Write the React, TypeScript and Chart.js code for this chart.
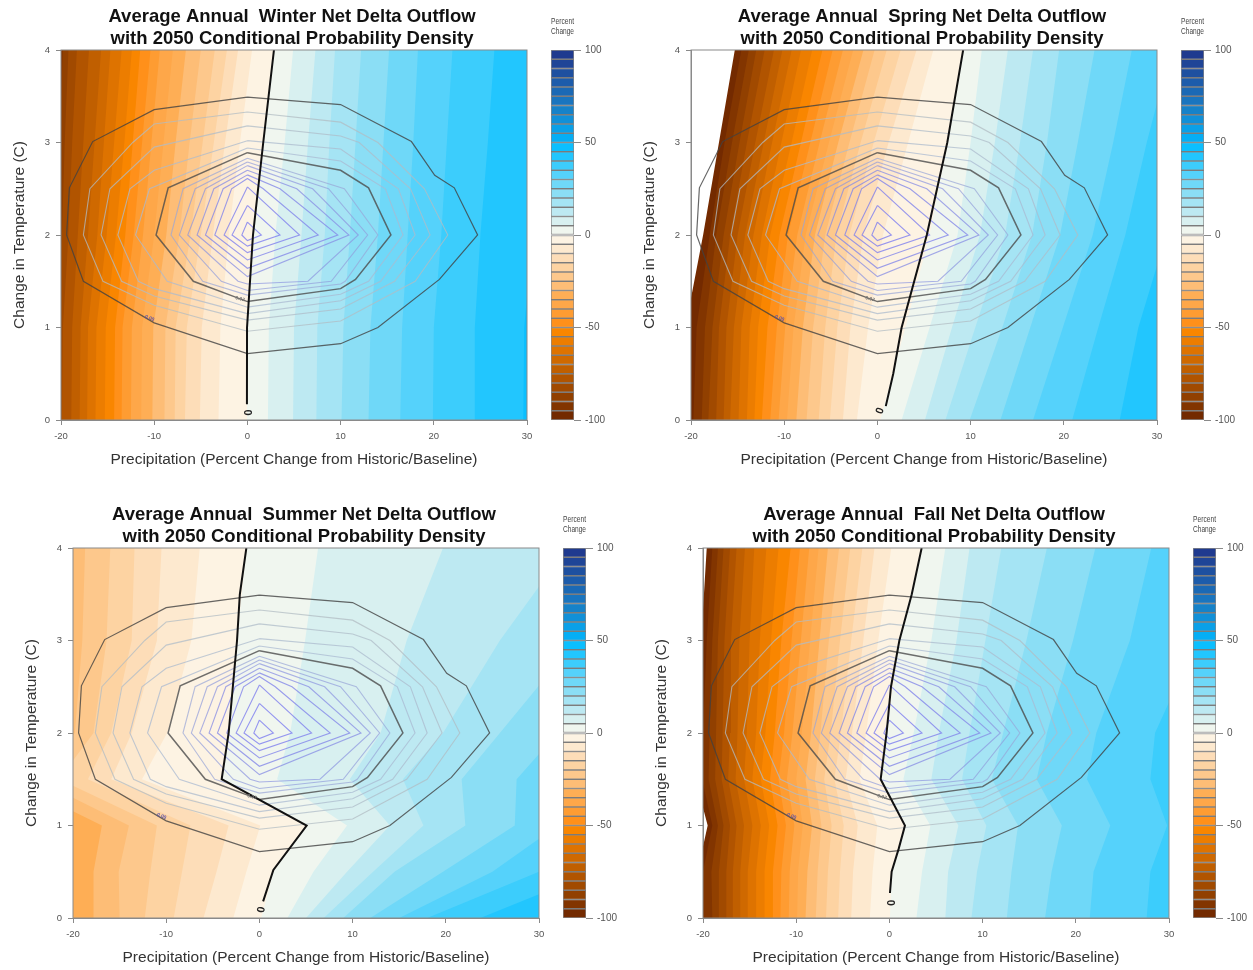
import React, { useEffect, useRef } from "react";
import { Chart, registerables } from "chart.js";

Chart.register(...registerables);

// contour levels of the filled surface (lower bound of each band)
const allLevels = [-100,-95,-90,-85,-80,-75,-70,-65,-60,-55,-50,-45,-40,-35,-30,-25,-20,-15,-10,-5,0,5,10,15,20,25,30,35,40,45];
const summerLevels = [-35,-30,-25,-20,-15,-10,-5,0,5,10,15,20,25,30,35,40,45];

// colour of each 5-percent band, -100 up to 95
const bandBottoms = [-100,-95,-90,-85,-80,-75,-70,-65,-60,-55,-50,-45,-40,-35,-30,-25,-20,-15,-10,-5,0,5,10,15,20,25,30,35,40,45,50,55,60,65,70,75,80,85,90,95];
const bandColors = [
  "#732a00","#823500","#914000","#a14a00","#b15400","#c05f00","#cf6900","#de7300","#ec7d00","#f98600",
  "#ff901a","#fe9c32","#fea749","#feae55","#fdbd76","#fdc88c","#fdd3a2","#fdddb8","#fde9cf","#fdf3e3",
  "#f0f6ef","#d8f0f0","#bde9f2","#a5e4f4","#8bdef5","#6fd8f8","#55d2fb","#3ccdfc","#22c6fe","#0bbfff",
  "#05aef5","#0aa0e8","#1190d8","#1682c9","#1a75bf","#1b69b5","#1d5cab","#1e50a0","#1f4597","#1f3a8f",
];

// x position of each level along rows of constant temperature
const winterT = [0, 1, 2, 3, 4];
const winterAt0 = [-25,-24,-23,-21,-19.9,-18.9,-18,-17.2,-16.3,-15.3,-14.3,-13.5,-12.5,-11.4,-10.2,-8.9,-7.8,-6.7,-5.1,-3.1,-0.05,2.2,4.9,7.4,10.1,13,16.4,19.9,24.4,29.6];
const winterAt1 = [-25,-24,-23,-20.9,-19.8,-18.8,-17.9,-17.1,-16.2,-15.2,-14.2,-13.4,-12.4,-11.3,-10.1,-8.8,-7.7,-6.5,-4.9,-2.9,-0.04,2.3,5,7.5,10.3,13.2,16.6,20,24.4,29.7];
const winterAt2 = [-23,-22,-21,-19.9,-19.2,-18.2,-17.1,-16.1,-15.1,-14.1,-13.1,-12.2,-11.2,-10,-8.7,-7.3,-6.1,-5,-3.7,-2,0.6,3,5.8,8.3,11,14,17.2,20.8,25,30.6];
const winterAt3 = [-22,-21,-20.2,-19.6,-18.8,-17.6,-16.4,-15.4,-14.3,-13.2,-12.3,-11.3,-10.3,-9,-7.7,-6.2,-4.8,-3.6,-2.4,-0.8,1.7,4,6.5,8.8,11.6,14.6,17.8,21.4,25.8,31.3];
const winterAt4 = [-20.2,-20,-19.8,-19.2,-18.3,-17,-15.7,-14.7,-13.5,-12.4,-11.5,-10.4,-9.4,-8,-6.6,-5,-3.5,-2.2,-1,0.5,2.85,4.9,7.3,9.4,12.2,15.2,18.3,22,26.5,32];

const springT = [0, 1, 2, 3, 4];
const springAt0 = [-21.5,-19.75,-18.85,-18.14,-17.3,-16.5,-15.8,-14.9,-14,-13.2,-12.4,-11.5,-10.6,-9.7,-8.7,-7.6,-6.3,-5.1,-3.7,-2.2,0.3,2.6,5.1,7.3,9.9,13.2,16.7,20.9,26,33];
const springAt1 = [-20.6,-19.4,-18.5,-17.7,-17,-16.2,-15.4,-14.6,-13.7,-12.8,-11.8,-10.8,-9.9,-9,-8,-6.9,-5.6,-4.3,-2.9,-1,3,5.6,8,10.5,13.4,16.4,19.9,23.7,28,33];
const springAt2 = [-18.7,-18,-17.3,-16.5,-15.8,-15,-14.2,-13.3,-12.4,-11.5,-10.5,-9.6,-8.6,-7.7,-6.7,-5.6,-4.4,-3,-1.5,0.6,5.6,8.6,11,13.7,16.6,19.6,23.1,26.6,31,36];
const springAt3 = [-17,-16.4,-15.6,-14.8,-14,-13.1,-12.2,-11.3,-10.3,-9.2,-8.2,-7.2,-6.2,-5.2,-4.2,-3,-1.8,-0.4,1.2,3.3,7.5,10,12.6,15.3,18.2,21.5,25.3,28.9,34,39];
const springAt4 = [-15.3,-14.6,-13.8,-13,-12.1,-11.1,-10.2,-9.2,-8.2,-7,-5.9,-4.8,-3.7,-2.6,-1.5,-0.3,1,2.5,4.2,6,9.2,11.2,14,16.7,19.5,23.3,27.3,31.5,37,42];

const summerT = [0, 0.5, 1, 1.5, 2, 3, 4];
const summerAt0 = [-21,-17.8,-15,-12.3,-9.2,-6,-2.8,0.2,3,5,6.9,9,11.9,15,18,23.7,30];
const summerAt05 = [-21,-17.8,-15.1,-11.7,-8.3,-4.6,-1.4,1.5,5.8,9.4,12.2,14.5,19.7,25,30,36,42];
const summerAt1 = [-20.5,-16.9,-14,-11,-7.4,-3.3,0.1,5.1,9.4,14,17.6,22.1,27.4,32,37,43,49];
const summerAt15 = [-30,-27,-24,-21.5,-18.4,-15.9,-12.6,-4,1.9,9.7,15.4,21.7,27.6,33,38,43,48];
const summerAt2 = [-26,-23,-19.8,-17.8,-15.9,-13.7,-9.9,-3.3,3.3,13,19.7,25.8,32,38,44,50,56];
const summerAt3 = [-27,-23,-19,-16.4,-13.7,-11,-7.3,-2.4,4.9,15.8,25.8,34,42,50,58,66,74];
const summerAt4 = [-26,-21,-18.7,-16,-13.4,-10.5,-6.4,-1.4,6.3,19.7,33,42,50,58,66,74,82];

const fallT = [0, 0.5, 1, 1.5, 2, 3, 4];
const fallAt0 = [-20.5,-19.9,-19,-18.3,-17.5,-16.8,-16,-15.2,-14.3,-13.4,-12.5,-11.7,-10.8,-9.9,-9,-7.9,-6.8,-5.5,-4.1,-2.1,0.06,2.9,6,8.8,12.6,16.7,21.5,27.6,35,44];
const fallAt05 = [-20.6,-20,-19.1,-18.3,-17.5,-16.8,-16,-15.2,-14.3,-13.4,-12.5,-11.6,-10.7,-9.8,-8.8,-7.7,-6.6,-5.3,-3.9,-1.8,0.24,3.5,6.3,9.4,13.1,17.4,21.9,28,35,44];
const fallAt1 = [-19.5,-19,-18.4,-17.8,-17.1,-16.4,-15.6,-14.7,-13.8,-12.9,-12,-11.1,-10.2,-9.3,-8.3,-7.3,-6.2,-4.9,-3.4,-1.3,1.67,4.4,7.4,10.4,13.8,18.5,23.7,29.8,37,45];
const fallAt15 = [-20.8,-20.1,-19.4,-18.7,-18,-17.3,-16.5,-15.6,-14.7,-13.8,-12.8,-11.9,-11,-10,-9,-8,-7,-5.9,-4.7,-3.2,-0.94,1.5,4.5,7.8,11,15.8,21.2,28,36,44];
const fallAt2 = [-20.6,-20,-19.3,-18.6,-17.9,-17.1,-16.3,-15.3,-14.3,-13.3,-12.3,-11.3,-10.4,-9.4,-8.4,-7.4,-6.3,-5.2,-4,-2.5,-0.3,2.6,5.3,8.6,12.2,16.9,22.2,28.5,36,44];
const fallAt3 = [-20.2,-19.6,-19,-18.4,-17.7,-17,-16.1,-15,-13.9,-12.7,-11.6,-10.5,-9.5,-8.5,-7.5,-6.5,-5.3,-4.1,-2.8,-1.2,1.07,4.5,7.2,10.3,14.7,19.7,25.8,33,40,48];
const fallAt4 = [-19.6,-19,-18.4,-17.8,-17.1,-16.4,-15.5,-14.5,-13.2,-11.9,-10.6,-9.6,-8.6,-7.6,-6.6,-5.4,-4.2,-2.9,-1.6,0.2,3.46,6,8.6,12,16.9,22.1,28.1,35,42,50];

// zero-change contour
const winterZeroX = [-0.05,-0.04,0.6,1.7,2.85];
const winterZeroT = [0.17,1,2,3,4];
const springZeroX = [0.9,1.7,2.6,5.3,7.5,9.2];
const springZeroT = [0.15,0.5,1,2,3,4];
const summerZeroX = [0.4,1.5,5.07,-4.05,-3.3,-2.4,-2.1,-1.4];
const summerZeroT = [0.18,0.52,1,1.5,2,3,3.5,4];
const fallZeroX = [0.06,0.24,1,1.67,-0.94,-0.3,0.17,1.07,2.4,3.46];
const fallZeroT = [0.27,0.5,0.75,1,1.5,2,2.5,3,3.5,4];

// probability density contours [precipitation, temperature]
const densityOuter = [[0,3.49],[10,3.41],[17.6,3.01],[20.1,2.645],[22.2,2.51],[24.7,2],[20.6,1.52],[14,1],[10,0.825],[0,0.717],[-10,1.05],[-17.6,1.5],[-19.4,2],[-19.1,2.51],[-16.6,3.01],[-10,3.355],[0,3.49]];
const densityL1 = [[0,3.33],[10,3.22],[14,3],[19,2.5],[21.5,2],[18,1.5],[10,1.07],[0,0.96],[-10,1.24],[-15.5,1.5],[-17.6,2],[-16.9,2.5],[-12.3,3],[-10,3.2],[0,3.33]];
const densityL2 = [[0,3.18],[10,3.07],[12,3],[17.5,2.5],[19.6,2],[15.8,1.5],[10,1.2],[0,1.08],[-10,1.34],[-13.5,1.5],[-15.7,2],[-14.75,2.5],[-10,2.95],[0,3.18]];
const densityL3 = [[0,3.02],[10,2.93],[16.2,2.5],[18,2],[14.3,1.5],[10,1.29],[0,1.15],[-10,1.42],[-11.7,1.5],[-13.9,2],[-12.6,2.5],[-10,2.7],[0,3.02]];
const densityL4 = [[0,2.94],[10,2.8],[14.8,2.5],[16.7,2],[13,1.5],[10,1.36],[0,1.22],[-8.6,1.5],[-12,2],[-10.5,2.5],[0,2.94]];
const densityInner = [[0,2.89],[10,2.7],[13,2.51],[15.4,2],[11.6,1.52],[10,1.42],[0,1.28],[-5.8,1.5],[-9.8,2],[-8.5,2.51],[0,2.89]];
const densityI1 = [[0,2.83],[10.4,2.5],[14,2],[10.5,1.5],[10,1.47],[0,1.35],[-4.8,1.5],[-8.2,2],[-6.9,2.5],[0,2.83]];
const densityI2 = [[0,2.79],[8.7,2.5],[12.9,2],[9,1.5],[0,1.4],[-2.8,1.5],[-7.3,2],[-5.6,2.5],[0,2.79]];
const densityI3 = [[0,2.75],[7,2.5],[11.9,2],[6.5,1.5],[0,1.47],[-1,1.5],[-6.4,2],[-4.5,2.5],[0,2.75]];
const densityI4 = [[0,2.7],[5.3,2.5],[10.9,2],[0,1.55],[-5.4,2],[-3.6,2.5],[0,2.7]];
const densityI5 = [[0,2.65],[3.5,2.5],[9.7,2],[0,1.64],[-4.5,2],[-2.6,2.5],[0,2.65]];
const densityI6 = [[0,2.61],[1.7,2.5],[7.6,2],[0,1.73],[-3.5,2],[-1.7,2.5],[0,2.61]];
const densityI7 = [[0,2.52],[5.6,2],[0,1.81],[-2.5,2],[0,2.52]];
const densityI8 = [[0,2.32],[3.5,2],[0,1.88],[-1.65,2],[0,2.32]];
const densityI9 = [[0,2.14],[1.5,2],[0,1.94],[-0.6,2],[0,2.14]];

const xTicksStep = 10;
const yTicksStep = 1;

const line = (pts: number[][], color: string, width: number) => ({ pts, color, width });
const densityLines = [
  line(densityI9, "rgba(125,125,240,0.8)", 1.1),
  line(densityI8, "rgba(125,125,240,0.8)", 1.1),
  line(densityI7, "rgba(128,128,238,0.8)", 1.1),
  line(densityI6, "rgba(130,132,235,0.8)", 1.1),
  line(densityI5, "rgba(132,136,232,0.8)", 1.1),
  line(densityI4, "rgba(135,140,228,0.75)", 1.1),
  line(densityI3, "rgba(140,148,224,0.7)", 1.1),
  line(densityI2, "rgba(146,156,220,0.7)", 1.1),
  line(densityI1, "rgba(152,165,215,0.7)", 1.1),
  line(densityInner, "rgba(75,75,75,0.8)", 1.5),
  line(densityL4, "rgba(170,185,210,0.75)", 1.1),
  line(densityL3, "rgba(172,187,205,0.75)", 1.1),
  line(densityL2, "rgba(175,188,200,0.75)", 1.1),
  line(densityL1, "rgba(178,188,195,0.75)", 1.1),
  line(densityOuter, "rgba(65,65,65,0.8)", 1.2),
];

const panels = [
  {
    left: 0, top: 0,
    title: ["Average Annual  Winter Net Delta Outflow", "with 2050 Conditional Probability Density"],
    temps: winterT, rows: [winterAt0, winterAt1, winterAt2, winterAt3, winterAt4], levels: allLevels,
    zeroX: winterZeroX, zeroT: winterZeroT, zeroLabel: [-0.05, 0.08, 90],
  },
  {
    left: 630, top: 0,
    title: ["Average Annual  Spring Net Delta Outflow", "with 2050 Conditional Probability Density"],
    temps: springT, rows: [springAt0, springAt1, springAt2, springAt3, springAt4], levels: allLevels,
    zeroX: springZeroX, zeroT: springZeroT, zeroLabel: [0.3, 0.1, -70],
  },
  {
    left: 12, top: 498,
    title: ["Average Annual  Summer Net Delta Outflow", "with 2050 Conditional Probability Density"],
    temps: summerT, rows: [summerAt0, summerAt05, summerAt1, summerAt15, summerAt2, summerAt3, summerAt4], levels: summerLevels,
    zeroX: summerZeroX, zeroT: summerZeroT, zeroLabel: [0.24, 0.09, -80],
  },
  {
    left: 642, top: 498,
    title: ["Average Annual  Fall Net Delta Outflow", "with 2050 Conditional Probability Density"],
    temps: fallT, rows: [fallAt0, fallAt05, fallAt1, fallAt15, fallAt2, fallAt3, fallAt4], levels: allLevels,
    zeroX: fallZeroX, zeroT: fallZeroT, zeroLabel: [0.06, 0.165, 90],
  },
];

const FONT = "'Liberation Sans', Arial, sans-serif";
const CANVAS_W = 584;
const CANVAS_H = 470;

function colorForLevel(level: number) {
  return bandColors[bandBottoms.indexOf(level)];
}

function buildDatasets(p: (typeof panels)[number]) {
  const ds: any[] = [];
  ds.push({
    data: p.zeroX.map((x, i) => ({ x, y: p.zeroT[i] })),
    showLine: true, pointRadius: 0, borderColor: "#111", borderWidth: 2, fill: false,
  });
  for (const l of densityLines) {
    ds.push({
      data: l.pts.map(([x, y]) => ({ x, y })),
      showLine: true, pointRadius: 0, borderColor: l.color, borderWidth: l.width, fill: false,
    });
  }
  // highest level first: the first dataset is painted last
  for (let i = p.levels.length - 1; i >= 0; i--) {
    const pts = p.rows.map((row, r) => ({ x: row[i], y: p.temps[r] }));
    pts.push({ x: 200, y: 4 }, { x: 200, y: 0 }, { x: pts[0].x, y: 0 });
    ds.push({
      data: pts, showLine: true, pointRadius: 0, borderWidth: 0,
      borderColor: colorForLevel(p.levels[i]),
      backgroundColor: colorForLevel(p.levels[i]), fill: "shape",
    });
  }
  return ds;
}

function makeMain(canvas: HTMLCanvasElement, p: (typeof panels)[number]) {
  const overlay = {
    id: "overlay",
    afterLayout(chart: any) {
      // the reference centres its title 2px left of the plot centre
      chart.titleBlock.right -= 4;
    },
    afterDatasetsDraw(chart: any) {
      const { ctx, chartArea: a, scales } = chart;
      ctx.save();
      ctx.strokeStyle = "#8a8a8a";
      ctx.lineWidth = 1;
      ctx.strokeRect(a.left, a.top, a.right - a.left, a.bottom - a.top);
      const text = (s: string, x: number, y: number, rot: number, font: string, color: string) => {
        ctx.save();
        ctx.translate(scales.x.getPixelForValue(x), scales.y.getPixelForValue(y));
        ctx.rotate((rot * Math.PI) / 180);
        ctx.font = font;
        ctx.fillStyle = color;
        ctx.textAlign = "center";
        ctx.textBaseline = "middle";
        ctx.fillText(s, 0, 0);
        ctx.restore();
      };
      text("0", p.zeroLabel[0], p.zeroLabel[1], p.zeroLabel[2], `bold 11px ${FONT}`, "#222");
      text("0.00", -10.5, 1.1, 22, `bold 5px ${FONT}`, "#5a50a8");
      text("0.02", -0.8, 1.31, 14, `bold 5px ${FONT}`, "#777");
      ctx.restore();
    },
  };
  return new Chart(canvas, {
    type: "scatter",
    data: { datasets: buildDatasets(p) },
    plugins: [overlay],
    options: {
      animation: false,
      responsive: false,
      layout: { padding: { left: 0, top: 0, right: CANVAS_W - 527, bottom: 0 } },
      plugins: {
        legend: { display: false },
        tooltip: { enabled: false },
        title: {
          display: true,
          fullSize: false,
          text: p.title,
          color: "#111",
          font: { family: FONT, size: 18.5, weight: "bold", lineHeight: 22 / 18.5 },
          padding: { top: 6, bottom: 0 },
        },
      },
      scales: {
        x: {
          type: "linear", min: -20, max: 30,
          afterFit: (s: any) => { s.height = 50; },
          ticks: { stepSize: xTicksStep, color: "#555", font: { family: FONT, size: 9.5 }, padding: 6, maxRotation: 0 },
          grid: { drawOnChartArea: false, drawTicks: true, tickLength: 5, color: "#8a8a8a" },
          border: { color: "#8a8a8a" },
          title: {
            display: true, text: "Precipitation (Percent Change from Historic/Baseline)",
            color: "#333", font: { family: FONT, size: 15.5, lineHeight: 16 / 15.5 }, padding: { top: 0, bottom: 2 },
          },
        },
        y: {
          type: "linear", min: 0, max: 4,
          afterFit: (s: any) => { s.width = 61; },
          ticks: { stepSize: yTicksStep, color: "#555", font: { family: FONT, size: 9.5 }, padding: 6 },
          grid: { drawOnChartArea: false, drawTicks: true, tickLength: 5, color: "#8a8a8a" },
          border: { color: "#8a8a8a" },
          title: {
            display: true, text: "Change in Temperature (C)",
            color: "#333", font: { family: FONT, size: 15.5, lineHeight: 16 / 15.5 }, padding: { top: 12, bottom: 0 },
          },
        },
      },
    } as any,
  });
}

function makeBar(canvas: HTMLCanvasElement) {
  return new Chart(canvas, {
    type: "bar",
    data: {
      labels: [""],
      datasets: bandBottoms.map((b, i) => ({
        data: [[b, i + 1 < bandBottoms.length ? bandBottoms[i + 1] : 100]],
        backgroundColor: bandColors[i],
        borderColor: "rgba(40,40,40,0.55)",
        borderWidth: 1,
        borderSkipped: false,
        grouped: false,
        barPercentage: 1,
        categoryPercentage: 1,
      })),
    } as any,
    options: {
      animation: false,
      responsive: false,
      layout: { padding: { left: 21, right: 0, top: 0, bottom: 20 } },
      plugins: {
        legend: { display: false },
        tooltip: { enabled: false },
        title: {
          display: true,
          fullSize: false,
          text: ["Percent", "Change"],
          color: "#444",
          font: { family: FONT, size: 8.5, weight: "normal", lineHeight: 9.5 / 8.5 },
          padding: { top: 17, bottom: 14 },
        },
      },
      scales: {
        x: { display: false },
        y: {
          position: "right", min: -100, max: 100,
          afterFit: (s: any) => { s.width = 36; },
          ticks: { stepSize: 50, color: "#555", font: { family: FONT, size: 10 }, padding: 4 },
          grid: { drawOnChartArea: false, drawTicks: true, tickLength: 7, color: "#8a8a8a" },
          border: { display: false },
        },
      },
    } as any,
  });
}

function Panel({ p }: { p: (typeof panels)[number] }) {
  const mainRef = useRef<HTMLCanvasElement>(null);
  const barRef = useRef<HTMLCanvasElement>(null);
  useEffect(() => {
    const a = makeMain(mainRef.current!, p);
    const b = makeBar(barRef.current!);
    return () => { a.destroy(); b.destroy(); };
  }, []);
  return (
    <>
      <canvas ref={mainRef} width={CANVAS_W} height={CANVAS_H}
        style={{ position: "absolute", left: p.left, top: p.top, width: CANVAS_W, height: CANVAS_H }} />
      <canvas ref={barRef} width={80} height={440}
        style={{ position: "absolute", left: p.left + 530, top: p.top, width: 80, height: 440 }} />
    </>
  );
}

export default function App() {
  return (
    <div style={{ position: "absolute", left: 0, top: 0, width: 1253, height: 970, overflow: "hidden", background: "#fff", filter: "blur(0.45px)" }}>
      {panels.map((p) => <Panel key={p.left + "-" + p.top} p={p} />)}
    </div>
  );
}
